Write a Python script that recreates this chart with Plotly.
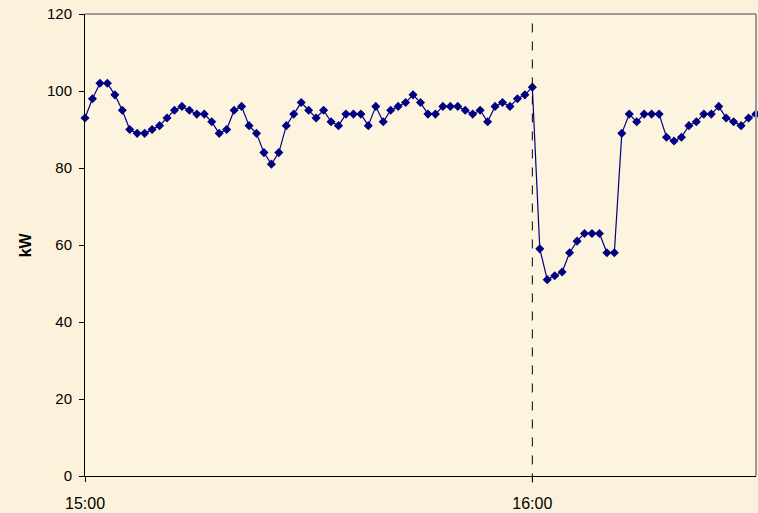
import plotly.graph_objects as go
import pandas as pd

# kW readings, one per minute from 15:00 to 16:30
kw_values = [
    93, 98, 102, 102, 99, 95, 90, 89, 89, 90,
    91, 93, 95, 96, 95, 94, 94, 92, 89, 90,
    95, 96, 91, 89, 84, 81, 84, 91, 94, 97,
    95, 93, 95, 92, 91, 94, 94, 94, 91, 96,
    92, 95, 96, 97, 99, 97, 94, 94, 96, 96,
    96, 95, 94, 95, 92, 96, 97, 96, 98, 99,
    101, 59, 51, 52, 53, 58, 61, 63, 63, 63,
    58, 58, 89, 94, 92, 94, 94, 94, 88, 87,
    88, 91, 92, 94, 94, 96, 93, 92, 91, 93,
    94,
]
start_time = "2000-01-01 15:00"
times = pd.date_range(start_time, periods=len(kw_values), freq="1min")
x_tick_vals = ["2000-01-01 15:00", "2000-01-01 16:00"]
x_tick_text = ["15:00", "16:00"]
y_ticks = [0, 20, 40, 60, 80, 100, 120]
event_time = "2000-01-01 16:00"
x_range = ["2000-01-01 15:00", "2000-01-01 16:30"]

fig = go.Figure()
fig.add_trace(go.Scatter(
    x=times, y=kw_values, mode="lines+markers",
    line=dict(color="#000080", width=1.2),
    marker=dict(symbol="diamond", size=7, color="#000080",
                line=dict(color="#000080", width=0)),
    showlegend=False, hoverinfo="skip", cliponaxis=False,
))

# dashed event line
fig.add_shape(type="line", xref="x", yref="paper", x0=event_time, x1=event_time,
              y0=-0.014, y1=1, line=dict(color="black", width=1, dash="dash"))
# gray top and right borders
fig.add_shape(type="line", xref="paper", yref="paper", x0=0, x1=1, y0=1, y1=1,
              line=dict(color="#999999", width=2))
fig.add_shape(type="line", xref="paper", yref="paper", x0=1, x1=1, y0=0, y1=1,
              line=dict(color="#999999", width=2))

# y-axis title
fig.add_annotation(text="<b>kW</b>", xref="paper", yref="paper", x=-0.089, y=0.5,
                   textangle=-90, showarrow=False, xanchor="center", yanchor="middle",
                   font=dict(size=16, color="black"))

fig.update_layout(
    width=758, height=513,
    margin=dict(l=85, r=2, t=14, b=37, autoexpand=False),
    paper_bgcolor="#FCF2DC",
    plot_bgcolor="#FDF4E0",
    font=dict(family="Liberation Sans, Arial, sans-serif", size=15, color="black"),
    xaxis=dict(
        type="date", range=x_range, automargin=False,
        tickvals=x_tick_vals, ticktext=x_tick_text,
        tickfont=dict(size=16),
        showgrid=False, zeroline=False,
        showline=True, linecolor="black", linewidth=1,
        ticks="outside", ticklen=5, tickcolor="black",
        ticklabelstandoff=8,
    ),
    yaxis=dict(
        range=[0, 120], tickvals=y_ticks, automargin=False,
        tickfont=dict(size=15),
        showgrid=False, zeroline=False,
        showline=True, linecolor="black", linewidth=1,
        ticks="outside", ticklen=5, tickcolor="black",
        ticklabelstandoff=4,
    ),
)

fig.write_html("out.html", config={"displayModeBar": False},
               post_script="document.body.style.margin='0';")
